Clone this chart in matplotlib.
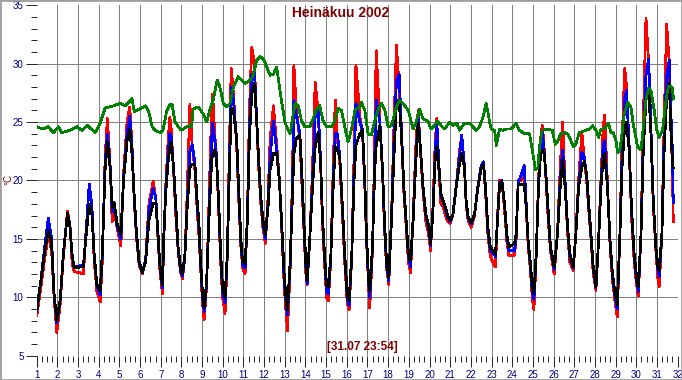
import matplotlib
matplotlib.use("Agg")
import matplotlib.pyplot as plt
from matplotlib import font_manager
from matplotlib.patches import Rectangle

names = {f.name for f in font_manager.fontManager.ttflist}
narrow = "Liberation Sans Narrow" if "Liberation Sans Narrow" in names else "Liberation Sans"
base = "Liberation Sans" if "Liberation Sans" in names else "DejaVu Sans"

title_text = "Heinäkuu 2002"
stamp_text = "[31.07 23:54]"
y_label = "°C"
x_ticks = list(range(1, 33))
y_ticks = list(range(5, 36, 5))

t_main = [
    1.00, 1.16, 1.40, 1.56, 1.72, 1.84, 1.97, 2.13, 2.29, 2.49, 2.61, 2.71, 2.81, 3.10, 3.26, 3.38, 3.54, 3.67, 3.78, 3.91,
    4.07, 4.17, 4.31, 4.42, 4.56, 4.65, 4.75, 4.88, 5.07, 5.20, 5.37, 5.50, 5.61, 5.71, 5.82, 5.95, 6.11, 6.27, 6.43, 6.63,
    6.76, 6.85, 6.95, 7.08,
    7.15, 7.24, 7.36, 7.44, 7.50, 7.63, 7.73, 7.84, 7.95, 8.05, 8.17, 8.28, 8.41, 8.52, 8.65, 8.76, 8.84, 8.93, 9.02, 9.10,
    9.22, 9.33, 9.46, 9.51, 9.61, 9.70, 9.80, 9.90, 9.99, 10.11, 10.22, 10.32, 10.41, 10.51, 10.67, 10.77, 10.87, 10.96, 11.08, 11.19,
    11.29, 11.40, 11.53, 11.64, 11.74, 11.84, 11.94, 12.06, 12.19, 12.29, 12.45, 12.61, 12.74, 12.86, 12.97, 13.07, 13.13, 13.26, 13.38,
    13.44, 13.56, 13.73, 13.82, 13.92, 14.02, 14.08, 14.21, 14.34, 14.47, 14.61, 14.73, 14.82, 14.92, 15.02, 15.11, 15.23, 15.34, 15.44, 15.55,
    15.66, 15.79, 15.90, 16.02, 16.11, 16.24, 16.35, 16.44, 16.63, 16.76, 16.87, 16.95, 17.05, 17.11, 17.24, 17.35, 17.42, 17.60, 17.73, 17.82,
    17.92, 18.03, 18.16, 18.27, 18.40, 18.53, 18.65, 18.76, 18.89, 18.98, 19.08, 19.21, 19.34, 19.45, 19.58, 19.69, 19.82, 19.95,
    20.05, 20.16, 20.27, 20.35, 20.45, 20.55, 20.65, 20.77, 20.89, 21.00, 21.13, 21.29, 21.45, 21.56, 21.69, 21.77, 21.87, 22.02, 22.18, 22.34,
    22.50, 22.61, 22.71, 22.82, 22.94, 23.06, 23.19, 23.29, 23.39, 23.50, 23.63, 23.74, 23.84, 24.11, 24.19, 24.29, 24.44, 24.58, 24.68, 24.77,
    24.87, 24.97, 25.05, 25.16, 25.27, 25.37, 25.45, 25.52, 25.61, 25.73, 25.85,
    26.03, 26.19, 26.32, 26.44, 26.56, 26.68, 26.79, 26.95, 27.08, 27.21, 27.37, 27.48, 27.60, 27.69, 27.81, 27.92, 28.05, 28.18, 28.29, 28.40,
    28.47, 28.61, 28.73, 28.85, 28.98, 29.08, 29.21, 29.31, 29.44, 29.53, 29.66, 29.77, 29.90, 30.02, 30.10, 30.23, 30.34, 30.47, 30.60, 30.71,
    30.82, 30.95, 31.05, 31.11, 31.24, 31.35, 31.47, 31.60, 31.68, 31.76, 31.79,
]

black = [
    8.9, 10.9, 14.0, 15.7, 14.6, 10.3, 8.0, 9.7, 13.7, 17.2, 16.0, 13.7, 12.5, 12.6, 12.6, 15.1, 18.0, 17.1, 13.7, 11.1,
    10.6, 13.7, 20.9, 23.3, 20.9, 17.7, 18.1, 16.4, 15.4, 20.0, 23.4, 24.4, 22.3, 18.9, 15.7, 13.1, 12.1, 13.1, 16.6, 18.0,
    18.1, 16.0, 12.9, 11.1,
    15.4, 18.9, 21.7, 22.8, 23.3, 20.9, 17.7, 14.3, 12.6, 12.0, 13.7, 17.7, 21.1, 21.4, 21.4, 18.3, 16.6, 13.1, 10.3, 9.1,
    11.4, 16.6, 21.7, 22.3, 22.6, 21.7, 18.3, 13.7, 10.9, 10.0, 13.7, 20.9, 26.2, 26.0, 23.7, 19.4, 15.1, 13.1, 12.9, 16.6,
    23.7, 27.4, 28.3, 25.1, 21.7, 18.6, 16.6, 15.4, 17.7, 20.9, 22.3, 22.3, 20.0, 16.0, 12.0, 9.7, 8.9, 13.1, 19.4,
    22.3, 23.6, 23.9, 20.9, 16.6, 12.9, 11.4, 15.1, 19.4, 22.9, 24.1, 21.7, 17.1, 13.7, 11.1, 10.9, 13.7, 19.4, 22.9, 22.6,
    22.0, 17.7, 13.7, 10.3, 9.7, 13.7, 20.0, 23.0, 24.0, 24.3, 20.0, 15.4, 11.7, 10.6, 14.3, 20.9, 23.0, 24.7, 20.9, 16.6,
    13.1, 11.7, 16.6, 21.7, 26.6, 26.9, 23.7, 19.4, 16.0, 13.7, 13.1, 16.6, 21.7, 24.9, 22.3, 19.4, 17.1, 16.2,
    14.6, 17.1, 21.7, 22.9, 21.1, 18.9, 18.3, 17.7, 16.9, 16.6, 17.1, 19.4, 21.4, 22.3, 21.1, 18.3, 16.9, 16.4, 17.1, 19.4,
    21.1, 21.4, 19.4, 16.0, 14.3, 14.0, 13.7, 16.6, 19.7, 19.9, 18.0, 15.4, 14.3, 14.6, 15.4, 19.7, 19.6, 19.7, 17.7, 14.9,
    13.1, 10.9, 10.3, 13.7, 19.4, 22.3, 22.5, 22.6, 21.1, 17.7, 14.3,
    12.6, 15.4, 19.4, 21.7, 19.4, 16.0, 13.7, 12.6, 15.4, 19.4, 21.2, 21.6, 20.6, 18.3, 15.4, 12.6, 10.9, 14.9, 19.4, 22.0,
    22.3, 19.4, 14.9, 12.0, 10.3, 9.4, 15.4, 21.1, 24.6, 25.0, 22.6, 17.7, 13.7, 11.7, 10.9, 15.4, 22.6, 26.9, 27.9, 24.0,
    18.3, 14.3, 12.6, 12.3, 15.4, 22.6, 27.1, 28.3, 24.0, 21.4, 21.0,
]

red = [
    8.4, 10.3, 13.5, 15.3, 14.0, 10.0, 7.0, 9.3, 13.5, 17.4, 16.2, 13.0, 12.2, 12.1, 12.0, 15.5, 19.6, 17.5, 13.2, 10.5,
    9.6, 13.0, 22.0, 25.3, 21.0, 16.5, 17.5, 16.0, 14.4, 20.5, 25.0, 26.3, 23.0, 18.5, 15.3, 12.8, 12.0, 13.3, 18.0, 19.9,
    18.5, 15.5, 12.5, 10.3,
    15.0, 19.5, 23.5, 25.4, 24.5, 20.5, 17.0, 14.0, 12.2, 11.6, 13.5, 19.0, 26.5, 23.0, 21.0, 17.5, 15.5, 12.5, 9.5, 8.1,
    11.0, 18.0, 26.0, 27.4, 24.0, 22.0, 17.5, 13.0, 10.0, 8.6, 13.5, 23.0, 29.6, 27.5, 23.0, 18.5, 14.5, 12.5, 12.0, 17.0,
    26.0, 31.4, 30.0, 25.0, 21.0, 18.0, 16.0, 14.6, 18.5, 23.5, 26.4, 23.0, 20.0, 15.5, 11.0, 8.5, 7.1, 12.5, 21.0,
    29.9, 26.0, 23.5, 20.0, 16.0, 12.0, 11.1, 15.0, 21.0, 28.4, 26.0, 21.5, 16.5, 13.0, 10.0, 9.7, 13.5, 21.0, 26.9, 23.5,
    21.5, 17.0, 13.0, 9.5, 8.9, 13.5, 22.0, 29.9, 25.5, 24.0, 19.5, 15.0, 11.0, 9.1, 14.0, 23.0, 31.1, 25.0, 20.5, 16.0,
    12.5, 11.1, 17.0, 24.0, 31.6, 28.0, 23.5, 19.0, 15.5, 13.0, 12.1, 17.0, 23.0, 26.0, 22.0, 19.0, 16.5, 15.5,
    14.0, 17.5, 23.0, 25.3, 21.0, 18.0, 17.8, 17.0, 16.5, 16.3, 17.0, 19.5, 22.5, 23.9, 21.0, 18.0, 16.5, 16.0, 17.0, 19.5,
    21.0, 21.4, 19.0, 15.5, 13.5, 13.0, 12.6, 17.0, 20.0, 20.0, 17.5, 14.8, 13.6, 13.6, 15.0, 20.0, 20.0, 20.7, 17.5, 14.5,
    12.5, 10.0, 8.9, 13.5, 20.0, 23.5, 24.7, 23.5, 20.8, 17.0, 14.0,
    12.0, 15.5, 21.0, 25.0, 19.5, 15.5, 13.0, 12.3, 15.5, 20.0, 24.1, 22.0, 20.0, 17.8, 15.0, 12.0, 10.6, 15.0, 20.0, 24.5,
    25.6, 19.5, 14.5, 11.5, 9.5, 8.3, 15.5, 23.0, 29.6, 28.0, 22.5, 17.0, 13.0, 11.0, 10.1, 15.5, 25.0, 33.9, 30.0, 24.0,
    18.0, 14.0, 11.5, 10.9, 15.5, 25.0, 33.4, 30.0, 25.0, 20.0, 16.4,
]

blue = [
    8.7, 10.8, 14.5, 16.8, 15.0, 10.2, 7.8, 9.6, 13.8, 17.2, 16.1, 13.6, 12.6, 12.7, 12.7, 15.3, 19.7, 17.8, 13.5, 11.0,
    10.2, 13.5, 21.5, 24.0, 21.0, 17.3, 18.0, 16.2, 15.0, 20.2, 24.0, 25.5, 22.8, 18.7, 15.5, 13.0, 12.1, 13.2, 17.5, 19.3,
    18.5, 15.8, 12.8, 10.8,
    15.2, 19.2, 22.5, 24.0, 23.8, 20.8, 17.5, 14.2, 12.4, 11.8, 13.6, 18.0, 22.5, 23.1, 21.5, 18.0, 16.0, 12.8, 10.0, 8.8,
    11.2, 17.0, 23.5, 24.9, 23.5, 22.0, 18.0, 13.5, 10.5, 9.5, 13.8, 21.5, 28.0, 27.0, 23.5, 19.0, 14.8, 12.8, 12.5, 16.8,
    24.5, 29.0, 29.4, 25.3, 21.5, 18.4, 16.4, 15.0, 18.0, 22.0, 25.1, 22.5, 20.0, 15.8, 11.5, 9.3, 8.5, 12.8, 20.0,
    26.9, 25.5, 24.0, 20.5, 16.3, 12.5, 11.2, 15.0, 20.0, 25.5, 26.3, 21.7, 17.0, 13.5, 10.5, 10.3, 13.6, 20.0, 24.0, 24.0,
    22.0, 17.5, 13.5, 10.0, 9.3, 13.6, 21.0, 26.6, 25.0, 24.3, 19.8, 15.2, 11.3, 10.0, 14.2, 22.0, 26.9, 25.0, 20.8, 16.3,
    12.8, 11.4, 16.8, 23.0, 28.5, 29.1, 24.0, 19.3, 15.8, 13.5, 12.6, 16.8, 22.0, 25.4, 22.3, 19.3, 17.0, 16.0,
    14.4, 17.2, 22.0, 25.0, 21.5, 18.7, 18.2, 17.5, 16.8, 16.5, 17.1, 19.5, 22.0, 23.9, 21.2, 18.2, 16.8, 16.3, 17.1, 19.5,
    21.3, 21.6, 19.3, 15.8, 14.0, 13.8, 13.5, 16.8, 19.8, 20.0, 18.0, 15.2, 14.0, 14.0, 15.2, 19.8, 20.5, 21.3, 17.8, 14.8,
    12.8, 10.5, 9.8, 13.6, 19.6, 23.0, 24.3, 23.0, 21.0, 17.5, 14.2,
    12.4, 15.4, 20.0, 22.6, 19.8, 16.0, 13.5, 12.5, 15.4, 19.6, 22.4, 22.0, 20.5, 18.0, 15.2, 12.4, 10.8, 14.9, 19.6, 23.0,
    23.4, 19.5, 14.8, 11.8, 10.0, 9.0, 15.4, 22.0, 27.0, 27.7, 22.8, 17.5, 13.5, 11.4, 10.5, 15.4, 23.5, 29.0, 30.4, 24.5,
    18.5, 14.2, 12.3, 11.8, 15.4, 24.0, 29.0, 30.3, 25.5, 22.0, 18.0,
]

t_green = [
    1.00, 1.32, 1.56, 1.81, 2.05, 2.21, 2.61, 2.94, 3.18, 3.46,
    3.83, 4.07, 4.31, 4.72, 5.04, 5.28, 5.61, 5.72, 6.26, 6.42,
    6.58, 6.74, 6.98, 7.11, 7.28, 7.45, 7.55, 7.68, 7.84, 8.00,
    8.25, 8.49, 8.57, 8.81, 9.06, 9.22, 9.38, 9.54, 9.73, 9.86,
    10.03, 10.19, 10.35, 10.51, 10.75, 10.92, 11.08, 11.32, 11.48, 11.64,
    11.81, 11.97, 12.13, 12.29, 12.45, 12.61, 12.70, 12.86, 13.02, 13.26,
    13.42, 13.50, 13.65, 13.81, 13.97, 14.21, 14.37, 14.53, 14.69, 14.85,
    15.02, 15.26, 15.42, 15.58, 15.74, 15.90, 16.06, 16.23, 16.39, 16.63,
    16.71, 16.87, 17.03, 17.19, 17.35, 17.52, 17.68, 17.84, 18.00, 18.16,
    18.40, 18.56, 18.81, 18.97, 19.21, 19.37, 19.53, 19.68, 19.92, 20.08,
    20.24, 20.40, 20.56, 20.73, 20.97, 21.13, 21.32, 21.45, 21.69, 21.94,
    22.10, 22.26, 22.42, 22.58, 22.74, 22.82, 22.90, 22.98, 23.15, 23.23,
    23.39, 23.55, 23.71, 23.95, 24.19, 24.35, 24.60, 24.84, 25.00, 25.13,
    25.24, 25.32, 25.45, 25.73, 25.94, 26.08, 26.19, 26.35, 26.52, 26.68,
    26.84, 26.95, 27.08, 27.24, 27.56, 27.73, 27.89, 28.05, 28.18, 28.29,
    28.45, 28.66, 28.77, 28.89, 29.02, 29.10, 29.21, 29.31, 29.42, 29.58,
    29.74, 29.85, 29.98, 30.06, 30.23, 30.31, 30.47, 30.60, 30.71, 30.87,
    30.98, 31.11, 31.27, 31.44, 31.56, 31.73, 31.81,
]

green = [
    24.6, 24.4, 24.6, 24.1, 24.6, 24.1, 24.3, 24.6, 24.3, 24.7,
    24.1, 24.9, 26.2, 26.4, 26.6, 26.4, 27.0, 25.9, 26.4, 25.9,
    24.6, 24.3, 24.1, 24.3, 25.9, 26.5, 26.5, 25.1, 24.6, 24.3,
    24.6, 24.6, 26.1, 26.3, 25.7, 25.0, 26.1, 26.9, 28.6, 28.0,
    26.6, 26.3, 26.6, 28.0, 28.9, 28.6, 28.3, 28.6, 29.0, 30.3,
    30.6, 30.4, 29.7, 29.0, 29.1, 29.7, 28.6, 26.6, 24.9, 24.0,
    25.8, 26.6, 26.4, 25.1, 24.6, 24.6, 25.3, 26.1, 26.4, 25.1,
    24.6, 24.6, 25.1, 26.2, 26.0, 24.6, 23.3, 24.4, 26.0, 26.3,
    26.7, 26.0, 24.0, 23.9, 25.1, 26.1, 26.6, 26.0, 24.6, 24.7,
    26.3, 26.9, 26.4, 26.0, 24.4, 25.1, 26.1, 25.3, 25.1, 24.4,
    24.7, 25.1, 24.7, 24.4, 25.0, 24.7, 24.9, 24.3, 24.9, 24.9,
    24.6, 24.3, 24.6, 25.4, 26.6, 25.9, 25.1, 24.4, 24.3, 23.0,
    24.4, 24.3, 24.4, 24.4, 24.9, 24.3, 24.0, 24.0, 22.3, 20.9,
    21.1, 22.9, 24.3, 24.4, 24.3, 23.1, 23.3, 24.0, 24.1, 24.0,
    23.4, 22.9, 23.1, 24.1, 24.3, 24.4, 24.7, 24.3, 23.7, 24.4,
    24.4, 24.9, 24.1, 24.1, 23.4, 22.4, 22.6, 24.0, 25.7, 26.7,
    26.3, 24.9, 23.7, 22.9, 22.6, 24.0, 26.9, 27.9, 27.7, 26.0,
    24.4, 23.7, 24.3, 26.9, 28.1, 28.0, 26.9,
]

W, H = 682, 380
fig = plt.figure(figsize=(W / 100, H / 100), dpi=100)
fig.patch.set_facecolor("white")

left, right, top, bottom = 36.7, 677.6, 5.3, 355.7
ax = fig.add_axes([left / W, 1 - bottom / H, (right - left) / W, (bottom - top) / H])
ax.set_facecolor("white")
ax.set_xlim(1, 32)
ax.set_ylim(5, 35)
for s in ax.spines.values():
    s.set_visible(False)

grid_c = "#808080"
for d in x_ticks[1:-1]:
    ax.axvline(d, color=grid_c, lw=0.55, zorder=1, antialiased=False, snap=True)
for v in y_ticks[1:-1]:
    ax.axhline(v, color=grid_c, lw=0.55, zorder=1, antialiased=False, snap=True)

lw = 1.25
style = dict(lw=lw, antialiased=False, solid_joinstyle="round", solid_capstyle="butt")
ax.plot(t_main, red, color="#ff0000", zorder=3, **style)
ax.plot(t_main, blue, color="#0000ff", zorder=4, **style)
ax.plot(t_main, black, color="#000000", zorder=5, **style)
ax.plot(t_green, green, color="#008000", zorder=6, **style)

ax.set_xticks(x_ticks)
ax.set_xticks([d + q for d in x_ticks[:-1] for q in (0.25, 0.5, 0.75)], minor=True)
ax.set_yticks(y_ticks)
ax.set_yticks([v for v in range(5, 36) if v % 5], minor=True)
ax.tick_params(which="major", direction="out", length=8, width=0.6, color="black",
               labelcolor="#000080", labelsize=7, pad=1.5)
ax.tick_params(which="minor", direction="out", length=4, width=0.6, color="black")
ax.tick_params(axis="x", which="major", pad=2.5)
for lab in ax.get_xticklabels() + ax.get_yticklabels():
    lab.set_family(base)

fig.text(340.8 / W, 1 - 13 / H, title_text, color="#800000", fontsize=10, fontweight="bold",
         family=narrow, ha="center", va="center")
fig.text(362.5 / W, 1 - 346.7 / H, stamp_text, color="#800000", fontsize=8.5, fontweight="bold",
         family=narrow, ha="center", va="center")
fig.text(8.5 / W, 1 - 180 / H, y_label, color="#800000", fontsize=7, rotation=90,
         family=base, ha="center", va="center")

fig.patches.append(Rectangle((0, 0), 1, 1, transform=fig.transFigure, fill=False,
                             edgecolor="#a0a0a0", lw=2.0, zorder=10))

fig.savefig("out.png", dpi=100, facecolor="white")
